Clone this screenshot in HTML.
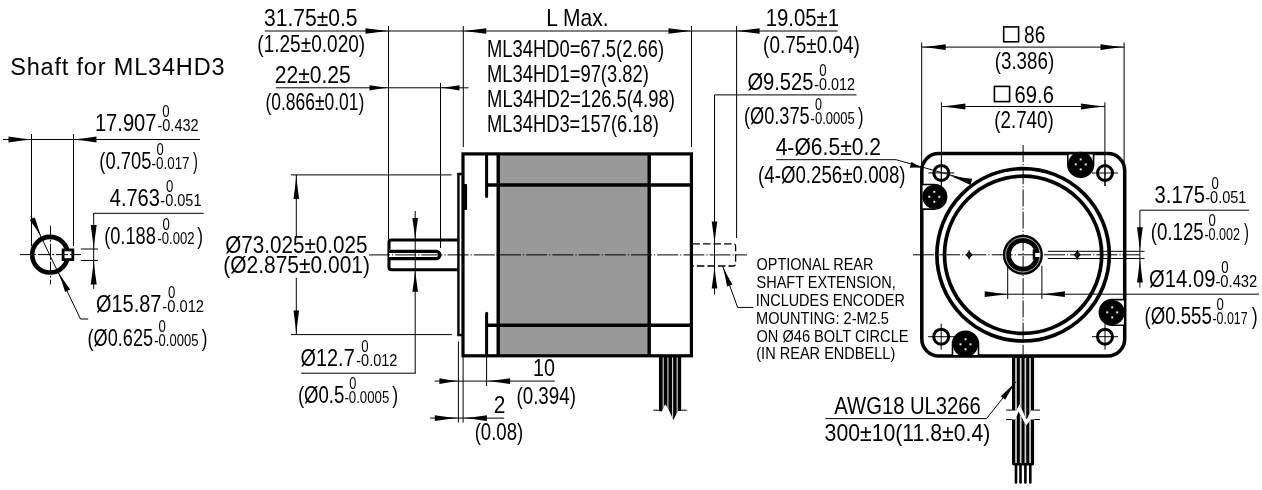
<!DOCTYPE html>
<html><head><meta charset="utf-8"><style>
html,body{margin:0;padding:0;background:#fff;}
svg{display:block;will-change:transform;}
text{font-family:"Liberation Sans",sans-serif;fill:#000;}
</style></head><body>
<svg width="1262" height="490" viewBox="0 0 1262 490">
<rect width="1262" height="490" fill="#fff"/>
<text x="10.17" y="75.3" font-size="23.5" textLength="214.35" lengthAdjust="spacing">Shaft for ML34HD3</text>
<line x1="3" y1="139.5" x2="200" y2="139.5" stroke="#000" stroke-width="1" />
<path d="M31.5,139.5 Q21.15,140.55 8.5,142.5 L8.5,136.5 Q21.15,138.45 31.5,139.5Z" fill="#000"/>
<path d="M73.5,139.5 Q83.85,138.45 96.5,136.5 L96.5,142.5 Q83.85,140.55 73.5,139.5Z" fill="#000"/>
<line x1="31.5" y1="134" x2="31.5" y2="246" stroke="#000" stroke-width="1" />
<line x1="73.5" y1="134" x2="73.5" y2="246" stroke="#000" stroke-width="1" />
<text x="94.89" y="131.4" font-size="24" textLength="61.64" lengthAdjust="spacingAndGlyphs">17.907</text>
<text x="162.17" y="117.4" font-size="16.3" textLength="7.34" lengthAdjust="spacingAndGlyphs">0</text>
<text x="157.45" y="131.4" font-size="16.3" textLength="41.19" lengthAdjust="spacingAndGlyphs">-0.432</text>
<text x="99.35" y="169.3" font-size="24" textLength="51.99" lengthAdjust="spacingAndGlyphs">(0.705</text>
<text x="156.58" y="155.3" font-size="16.3" textLength="7.22" lengthAdjust="spacingAndGlyphs">0</text>
<text x="151.6" y="169.3" font-size="16.3" textLength="37.98" lengthAdjust="spacingAndGlyphs">-0.017</text>
<text x="192.89" y="169.3" font-size="24" textLength="4.9" lengthAdjust="spacingAndGlyphs">)</text>
<text x="109.75" y="206.1" font-size="24" textLength="50.1" lengthAdjust="spacingAndGlyphs">4.763</text>
<text x="165.97" y="192.1" font-size="16.3" textLength="7.34" lengthAdjust="spacingAndGlyphs">0</text>
<text x="160.35" y="206.1" font-size="16.3" textLength="41.15" lengthAdjust="spacingAndGlyphs">-0.051</text>
<line x1="93.7" y1="213.3" x2="203.8" y2="213.3" stroke="#000" stroke-width="1" />
<line x1="93.7" y1="213" x2="93.7" y2="288.8" stroke="#000" stroke-width="1" />
<path d="M93.7,249 Q92.65,238.2 90.7,225 L96.7,225 Q94.75,238.2 93.7,249Z" fill="#000"/>
<text x="104.16" y="243.6" font-size="24" textLength="51.62" lengthAdjust="spacingAndGlyphs">(0.188</text>
<text x="162.47" y="229.6" font-size="16.3" textLength="7.34" lengthAdjust="spacingAndGlyphs">0</text>
<text x="157.41" y="243.6" font-size="16.3" textLength="37.15" lengthAdjust="spacingAndGlyphs">-0.002</text>
<text x="197.27" y="243.6" font-size="24" textLength="5.78" lengthAdjust="spacingAndGlyphs">)</text>
<circle cx="50" cy="254.7" r="17.8" stroke="#000" stroke-width="4.6" fill="none" />
<rect x="63.1" y="249.9" width="9.7" height="9.7" stroke="#000" stroke-width="2.8" fill="#fff"/>
<line x1="20" y1="254.6" x2="81" y2="254.6" stroke="#000" stroke-width="1" stroke-dasharray="12,2,2,2"/>
<line x1="50.5" y1="225.7" x2="50.5" y2="284.4" stroke="#000" stroke-width="1" stroke-dasharray="12,2,2,2"/>
<line x1="80.8" y1="249" x2="98" y2="249" stroke="#000" stroke-width="1" />
<line x1="80.8" y1="260.5" x2="98" y2="260.5" stroke="#000" stroke-width="1" />
<path d="M93.7,260.5 Q94.75,271.3 96.7,284.5 L90.7,284.5 Q92.65,271.3 93.7,260.5Z" fill="#000"/>
<polyline points="31,216 80.5,319 88.2,319" stroke="#000" stroke-width="1" fill="none" />
<path d="M41.2,236.7 Q36.35,229.05 29.87,219.98 L34.9,217.51 Q38.11,228.19 41.2,236.7Z" fill="#000"/>
<path d="M58.8,272.7 Q63.65,280.35 70.13,289.42 L65.1,291.89 Q61.89,281.21 58.8,272.7Z" fill="#000"/>
<text x="96" y="311.5" font-size="24" textLength="65.4" lengthAdjust="spacingAndGlyphs">Ø15.87</text>
<text x="167.97" y="297.5" font-size="16.3" textLength="7.34" lengthAdjust="spacingAndGlyphs">0</text>
<text x="162.34" y="311.5" font-size="16.3" textLength="41.71" lengthAdjust="spacingAndGlyphs">-0.012</text>
<text x="87.57" y="346" font-size="24" textLength="65.47" lengthAdjust="spacingAndGlyphs">(Ø0.625</text>
<text x="158.47" y="332" font-size="16.3" textLength="7.34" lengthAdjust="spacingAndGlyphs">0</text>
<text x="154.21" y="346" font-size="16.3" textLength="44.33" lengthAdjust="spacingAndGlyphs">-0.0005</text>
<text x="201.87" y="346" font-size="24" textLength="5.65" lengthAdjust="spacingAndGlyphs">)</text>
<text x="264.01" y="25.7" font-size="24" textLength="93.57" lengthAdjust="spacingAndGlyphs">31.75±0.5</text>
<line x1="264.8" y1="31" x2="837.5" y2="31" stroke="#000" stroke-width="1" />
<path d="M388.5,31 Q378.15,31.98 365.5,33.8 L365.5,28.2 Q378.15,30.02 388.5,31Z" fill="#000"/>
<path d="M463.3,31 Q473.65,30.02 486.3,28.2 L486.3,33.8 Q473.65,31.98 463.3,31Z" fill="#000"/>
<path d="M691.5,31 Q681.15,31.98 668.5,33.8 L668.5,28.2 Q681.15,30.02 691.5,31Z" fill="#000"/>
<path d="M736.6,31 Q746.95,30.02 759.6,28.2 L759.6,33.8 Q746.95,31.98 736.6,31Z" fill="#000"/>
<text x="257.31" y="51.9" font-size="24" textLength="107.86" lengthAdjust="spacingAndGlyphs">(1.25±0.020)</text>
<text x="274.75" y="82.5" font-size="24" textLength="75.89" lengthAdjust="spacingAndGlyphs">22±0.25</text>
<line x1="275.8" y1="87.8" x2="468.5" y2="87.8" stroke="#000" stroke-width="1" />
<path d="M388.5,87.8 Q379.95,88.71 369.5,90.4 L369.5,85.2 Q379.95,86.89 388.5,87.8Z" fill="#000"/>
<path d="M440.5,87.8 Q449.05,86.89 459.5,85.2 L459.5,90.4 Q449.05,88.71 440.5,87.8Z" fill="#000"/>
<text x="265.41" y="109.9" font-size="24" textLength="98.96" lengthAdjust="spacingAndGlyphs">(0.866±0.01)</text>
<line x1="388.5" y1="26" x2="388.5" y2="239.5" stroke="#000" stroke-width="1" />
<line x1="440.5" y1="83" x2="440.5" y2="248" stroke="#000" stroke-width="1" />
<line x1="463.3" y1="26" x2="463.3" y2="147" stroke="#000" stroke-width="1" />
<line x1="691.5" y1="26" x2="691.5" y2="147" stroke="#000" stroke-width="1" />
<line x1="736.6" y1="26" x2="736.6" y2="238" stroke="#000" stroke-width="1" />
<text x="546.27" y="25.7" font-size="24" textLength="62.25" lengthAdjust="spacingAndGlyphs">L Max.</text>
<text x="487.09" y="57" font-size="24" textLength="176.91" lengthAdjust="spacingAndGlyphs">ML34HD0=67.5(2.66)</text>
<text x="487.09" y="81.7" font-size="24" textLength="161.73" lengthAdjust="spacingAndGlyphs">ML34HD1=97(3.82)</text>
<text x="487.08" y="106.6" font-size="24" textLength="187.74" lengthAdjust="spacingAndGlyphs">ML34HD2=126.5(4.98)</text>
<text x="487.09" y="131.9" font-size="24" textLength="171.7" lengthAdjust="spacingAndGlyphs">ML34HD3=157(6.18)</text>
<text x="765.67" y="26.1" font-size="24" textLength="73.39" lengthAdjust="spacingAndGlyphs">19.05±1</text>
<text x="763.12" y="52.5" font-size="24" textLength="96.72" lengthAdjust="spacingAndGlyphs">(0.75±0.04)</text>
<text x="747.39" y="89.7" font-size="24" textLength="66.12" lengthAdjust="spacingAndGlyphs">Ø9.525</text>
<text x="819.17" y="75.7" font-size="16.3" textLength="7.34" lengthAdjust="spacingAndGlyphs">0</text>
<text x="814.25" y="89.7" font-size="16.3" textLength="40.67" lengthAdjust="spacingAndGlyphs">-0.012</text>
<line x1="714.5" y1="94.9" x2="856.6" y2="94.9" stroke="#000" stroke-width="1" />
<line x1="714.5" y1="94.9" x2="714.5" y2="294.4" stroke="#000" stroke-width="1" />
<path d="M714.5,243.5 Q713.52,233.6 711.7,221.5 L717.3,221.5 Q715.48,233.6 714.5,243.5Z" fill="#000"/>
<path d="M714.5,266.5 Q715.48,276.4 717.3,288.5 L711.7,288.5 Q713.52,276.4 714.5,266.5Z" fill="#000"/>
<text x="743.96" y="124.1" font-size="24" textLength="65.78" lengthAdjust="spacingAndGlyphs">(Ø0.375</text>
<text x="815.1" y="110.1" font-size="16.3" textLength="6.99" lengthAdjust="spacingAndGlyphs">0</text>
<text x="810.61" y="124.1" font-size="16.3" textLength="44.13" lengthAdjust="spacingAndGlyphs">-0.0005</text>
<text x="858.08" y="124.1" font-size="24" textLength="5.53" lengthAdjust="spacingAndGlyphs">)</text>
<line x1="291" y1="174.9" x2="451.6" y2="174.9" stroke="#000" stroke-width="1" />
<line x1="291" y1="334.6" x2="451.9" y2="334.6" stroke="#000" stroke-width="1" />
<line x1="296.3" y1="174.9" x2="296.3" y2="237" stroke="#000" stroke-width="1" />
<path d="M296.3,174.9 Q297.28,185.7 299.1,198.9 L293.5,198.9 Q295.32,185.7 296.3,174.9Z" fill="#000"/>
<line x1="296.3" y1="278" x2="296.3" y2="334.6" stroke="#000" stroke-width="1" />
<path d="M296.3,334.6 Q295.32,323.8 293.5,310.6 L299.1,310.6 Q297.28,323.8 296.3,334.6Z" fill="#000"/>
<text x="225.18" y="252.9" font-size="24" textLength="142.26" lengthAdjust="spacingAndGlyphs">Ø73.025±0.025</text>
<text x="223.29" y="273" font-size="24" textLength="146.67" lengthAdjust="spacingAndGlyphs">(Ø2.875±0.001)</text>
<rect x="498.2" y="153.9" width="150.8" height="201.9" fill="#999"/>
<rect x="463" y="153.9" width="228.4" height="201.9" fill="none" stroke="#000" stroke-width="3.2"/>
<line x1="498.2" y1="153.9" x2="498.2" y2="355.8" stroke="#000" stroke-width="3.4" />
<line x1="649.2" y1="153.9" x2="649.2" y2="355.8" stroke="#000" stroke-width="3.4" />
<line x1="486.6" y1="185" x2="691.4" y2="185" stroke="#000" stroke-width="3.4" />
<line x1="486.6" y1="325.3" x2="691.4" y2="325.3" stroke="#000" stroke-width="3.4" />
<line x1="486.6" y1="153.9" x2="486.6" y2="196.6" stroke="#000" stroke-width="3" stroke-linecap="round"/>
<line x1="486.6" y1="313.3" x2="486.6" y2="355.8" stroke="#000" stroke-width="3" stroke-linecap="round"/>
<polyline points="463,174 458.4,174 458.4,335 463,335" stroke="#000" stroke-width="2.4" fill="none" />
<rect x="463.5" y="184" width="3.6" height="26" rx="1" fill="#000"/>
<path d="M458,240 L391.5,240 Q389,240 389,242.5 L389,267.2 Q389,269.7 391.5,269.7 L458,269.7" stroke="#000" stroke-width="3.1" fill="none" />
<path d="M389,251.4 L436.3,251.4 A3.6,3.6 0 0 1 436.3,258.6 L389,258.6" stroke="#000" stroke-width="3.2" fill="#fff" />
<line x1="415.2" y1="211" x2="415.2" y2="373" stroke="#000" stroke-width="1" />
<path d="M415.2,240 Q414.22,230.1 412.4,218 L418,218 Q416.18,230.1 415.2,240Z" fill="#000"/>
<path d="M415.2,269.7 Q416.18,279.6 418,291.7 L412.4,291.7 Q414.22,279.6 415.2,269.7Z" fill="#000"/>
<text x="300.5" y="365.6" font-size="24" textLength="54.23" lengthAdjust="spacingAndGlyphs">Ø12.7</text>
<text x="361.17" y="351.6" font-size="16.3" textLength="7.34" lengthAdjust="spacingAndGlyphs">0</text>
<text x="356.25" y="365.6" font-size="16.3" textLength="41.19" lengthAdjust="spacingAndGlyphs">-0.012</text>
<line x1="301.2" y1="373.2" x2="415.8" y2="373.2" stroke="#000" stroke-width="1" />
<text x="297.94" y="402.5" font-size="24" textLength="46.42" lengthAdjust="spacingAndGlyphs">(Ø0.5</text>
<text x="349.19" y="388.5" font-size="16.3" textLength="7.11" lengthAdjust="spacingAndGlyphs">0</text>
<text x="344.4" y="402.5" font-size="16.3" textLength="44.95" lengthAdjust="spacingAndGlyphs">-0.0005</text>
<text x="392.37" y="402.5" font-size="24" textLength="5.91" lengthAdjust="spacingAndGlyphs">)</text>
<line x1="458.4" y1="341.5" x2="458.4" y2="422.6" stroke="#000" stroke-width="1" />
<line x1="463.1" y1="357" x2="463.1" y2="422.6" stroke="#000" stroke-width="1" />
<line x1="486.6" y1="357" x2="486.6" y2="386" stroke="#000" stroke-width="1" />
<line x1="434.6" y1="381.1" x2="554.6" y2="381.1" stroke="#000" stroke-width="1" />
<path d="M458.4,381.1 Q449.85,382.12 439.4,384 L439.4,378.2 Q449.85,380.09 458.4,381.1Z" fill="#000"/>
<path d="M486.7,381.1 Q497.23,380.09 510.1,378.2 L510.1,384 Q497.23,382.12 486.7,381.1Z" fill="#000"/>
<text x="533.02" y="375.9" font-size="24" textLength="21.97" lengthAdjust="spacingAndGlyphs">10</text>
<text x="516.43" y="403.6" font-size="24" textLength="59.52" lengthAdjust="spacingAndGlyphs">(0.394)</text>
<line x1="430.1" y1="418.1" x2="504.2" y2="418.1" stroke="#000" stroke-width="1" />
<path d="M458.4,418.1 Q447.78,419.12 434.8,421 L434.8,415.2 Q447.78,417.09 458.4,418.1Z" fill="#000"/>
<path d="M463.1,418.1 Q473.81,417.09 486.9,415.2 L486.9,421 Q473.81,419.12 463.1,418.1Z" fill="#000"/>
<text x="493.66" y="412.9" font-size="24" textLength="11.61" lengthAdjust="spacingAndGlyphs">2</text>
<text x="474.64" y="440.3" font-size="24" textLength="48.58" lengthAdjust="spacingAndGlyphs">(0.08)</text>
<line x1="369" y1="254.9" x2="747" y2="254.9" stroke="#000" stroke-width="1" stroke-dasharray="21,2,1.2,2"/>
<clipPath id="cw1"><polygon points="658.8,355 681.4,355 681.4,411 677.8,411 676.6,413.5 673.4,420 667.6,407.2 665,404.5 661.8,411.5 658.8,411"/></clipPath>
<g clip-path="url(#cw1)"><rect x="658.8" y="355" width="22.6" height="70" fill="#000"/>
<line x1="663.2" y1="357.5" x2="663.2" y2="425" stroke="#d8d8d8" stroke-width="1.1" />
<line x1="667.9" y1="357.5" x2="667.9" y2="425" stroke="#d8d8d8" stroke-width="1.1" />
<line x1="672.6" y1="357.5" x2="672.6" y2="425" stroke="#d8d8d8" stroke-width="1.1" />
<line x1="677.2" y1="357.5" x2="677.2" y2="425" stroke="#d8d8d8" stroke-width="1.1" />
</g>
<line x1="653.4" y1="410.2" x2="658.8" y2="410.2" stroke="#000" stroke-width="1" />
<line x1="681.4" y1="410.2" x2="686.8" y2="410.2" stroke="#000" stroke-width="1" />
<path d="M692.5,243.8 L733.2,243.8 Q735.6,243.8 735.6,246.2 L735.6,263.6 Q735.6,266 733.2,266 L692.5,266" stroke="#000" stroke-width="1.3" fill="none" stroke-dasharray="7.5,3"/>
<polyline points="722.9,266.7 737.6,307.4 753.5,307.4" stroke="#000" stroke-width="1" fill="none" />
<path d="M722.9,266.7 Q726.88,274.83 732.33,284.56 L727.06,286.46 Q725.04,275.5 722.9,266.7Z" fill="#000"/>
<text x="756.51" y="270.3" font-size="16.2" textLength="116.99" lengthAdjust="spacingAndGlyphs">OPTIONAL REAR</text>
<text x="756.55" y="288.1" font-size="16.2" textLength="139.15" lengthAdjust="spacingAndGlyphs">SHAFT EXTENSION,</text>
<text x="755.87" y="306" font-size="16.2" textLength="149.02" lengthAdjust="spacingAndGlyphs">INCLUDES ENCODER</text>
<text x="756" y="323.9" font-size="16.2" textLength="132.92" lengthAdjust="spacingAndGlyphs">MOUNTING: 2-M2.5</text>
<text x="756.51" y="341.9" font-size="16.2" textLength="151.99" lengthAdjust="spacingAndGlyphs">ON Ø46 BOLT CIRCLE</text>
<text x="756.29" y="359.3" font-size="16.2" textLength="138.99" lengthAdjust="spacingAndGlyphs">(IN REAR ENDBELL)</text>
<line x1="921.7" y1="42.4" x2="921.7" y2="170" stroke="#000" stroke-width="1" />
<line x1="1124.1" y1="42.4" x2="1124.1" y2="172" stroke="#000" stroke-width="1" />
<line x1="921.7" y1="47.1" x2="1124.5" y2="47.1" stroke="#000" stroke-width="1" />
<path d="M921.7,47.1 Q932.5,46.09 945.7,44.2 L945.7,50 Q932.5,48.12 921.7,47.1Z" fill="#000"/>
<path d="M1124.5,47.1 Q1113.7,48.12 1100.5,50 L1100.5,44.2 Q1113.7,46.09 1124.5,47.1Z" fill="#000"/>
<rect x="1003.7" y="26.9" width="14.9" height="14.9" fill="none" stroke="#000" stroke-width="1.6"/>
<text x="1024.09" y="42.8" font-size="24" textLength="21.27" lengthAdjust="spacingAndGlyphs">86</text>
<text x="994.73" y="68.9" font-size="24" textLength="59.42" lengthAdjust="spacingAndGlyphs">(3.386)</text>
<line x1="941.4" y1="102.3" x2="941.4" y2="186" stroke="#000" stroke-width="1" />
<line x1="1104.9" y1="102.3" x2="1104.9" y2="186" stroke="#000" stroke-width="1" />
<line x1="941.4" y1="106.5" x2="1104.9" y2="106.5" stroke="#000" stroke-width="1" />
<path d="M941.4,106.5 Q952.2,105.48 965.4,103.6 L965.4,109.4 Q952.2,107.52 941.4,106.5Z" fill="#000"/>
<path d="M1104.9,106.5 Q1094.1,107.52 1080.9,109.4 L1080.9,103.6 Q1094.1,105.48 1104.9,106.5Z" fill="#000"/>
<rect x="994.4" y="86.4" width="15.2" height="15.2" fill="none" stroke="#000" stroke-width="1.6"/>
<text x="1014.59" y="102.5" font-size="24" textLength="39.3" lengthAdjust="spacingAndGlyphs">69.6</text>
<text x="994.33" y="128.2" font-size="24" textLength="59.31" lengthAdjust="spacingAndGlyphs">(2.740)</text>
<rect x="921.8" y="153.6" width="202.9" height="202.3" rx="17" fill="none" stroke="#000" stroke-width="3.5"/>
<path d="M1067.8,153.6 L1067.8,164.4 A12.9,12.9 0 0 0 1093.6000000000001,164.4 L1093.6000000000001,153.6Z" fill="#fff" stroke="#000" stroke-width="1.6"/>
<circle cx="1080.7" cy="164.4" r="12.6" stroke="#000" stroke-width="0" fill="#000" />
<rect x="1079.7" y="158.4" width="2" height="2" fill="#e8e8e8"/>
<rect x="1079.7" y="168.4" width="2" height="2" fill="#e8e8e8"/>
<rect x="1074.7" y="163.4" width="2" height="2" fill="#e8e8e8"/>
<rect x="1084.7" y="163.4" width="2" height="2" fill="#e8e8e8"/>
<path d="M921.8,184.5 L934.3,184.5 A12.3,12.3 0 0 1 934.3,209.10000000000002 L921.8,209.10000000000002Z" fill="#fff" stroke="#000" stroke-width="1.6"/>
<circle cx="934.3" cy="196.8" r="12" stroke="#000" stroke-width="0" fill="#000" />
<rect x="933.3" y="190.8" width="2" height="2" fill="#e8e8e8"/>
<rect x="933.3" y="200.8" width="2" height="2" fill="#e8e8e8"/>
<rect x="928.3" y="195.8" width="2" height="2" fill="#e8e8e8"/>
<rect x="938.3" y="195.8" width="2" height="2" fill="#e8e8e8"/>
<path d="M1124.7,299.59999999999997 L1112.2,299.59999999999997 A12.8,12.8 0 0 0 1112.2,325.2 L1124.7,325.2Z" fill="#fff" stroke="#000" stroke-width="1.6"/>
<circle cx="1112.2" cy="312.4" r="12.5" stroke="#000" stroke-width="0" fill="#000" />
<rect x="1111.2" y="306.4" width="2" height="2" fill="#e8e8e8"/>
<rect x="1111.2" y="316.4" width="2" height="2" fill="#e8e8e8"/>
<rect x="1106.2" y="311.4" width="2" height="2" fill="#e8e8e8"/>
<rect x="1116.2" y="311.4" width="2" height="2" fill="#e8e8e8"/>
<path d="M952.5,355.9 L952.5,344.3 A13,13 0 0 1 978.5,344.3 L978.5,355.9Z" fill="#fff" stroke="#000" stroke-width="1.6"/>
<circle cx="965.5" cy="344.3" r="12.7" stroke="#000" stroke-width="0" fill="#000" />
<rect x="964.5" y="338.3" width="2" height="2" fill="#e8e8e8"/>
<rect x="964.5" y="348.3" width="2" height="2" fill="#e8e8e8"/>
<rect x="959.5" y="343.3" width="2" height="2" fill="#e8e8e8"/>
<rect x="969.5" y="343.3" width="2" height="2" fill="#e8e8e8"/>
<line x1="928.3" y1="172.9" x2="954.3" y2="172.9" stroke="#000" stroke-width="1" />
<line x1="941.3" y1="159.9" x2="941.3" y2="185.9" stroke="#000" stroke-width="1" />
<circle cx="941.3" cy="172.9" r="7.5" stroke="#000" stroke-width="3" fill="none" />
<line x1="1092" y1="173" x2="1118" y2="173" stroke="#000" stroke-width="1" />
<line x1="1105" y1="160" x2="1105" y2="186" stroke="#000" stroke-width="1" />
<circle cx="1105" cy="173" r="7.5" stroke="#000" stroke-width="3" fill="none" />
<line x1="928.2" y1="336.7" x2="954.2" y2="336.7" stroke="#000" stroke-width="1" />
<line x1="941.2" y1="323.7" x2="941.2" y2="349.7" stroke="#000" stroke-width="1" />
<circle cx="941.2" cy="336.7" r="7.5" stroke="#000" stroke-width="3" fill="none" />
<line x1="1092" y1="336.7" x2="1118" y2="336.7" stroke="#000" stroke-width="1" />
<line x1="1105" y1="323.7" x2="1105" y2="349.7" stroke="#000" stroke-width="1" />
<circle cx="1105" cy="336.7" r="7.5" stroke="#000" stroke-width="3" fill="none" />
<circle cx="1023.1" cy="254.8" r="86.2" stroke="#000" stroke-width="3.7" fill="none" />
<circle cx="1023.1" cy="254.8" r="78.6" stroke="#000" stroke-width="3.7" fill="none" />
<line x1="913" y1="254.8" x2="1140" y2="254.8" stroke="#000" stroke-width="1" stroke-dasharray="21,2,1.2,2"/>
<line x1="1023.1" y1="145" x2="1023.1" y2="372" stroke="#000" stroke-width="1" stroke-dasharray="17,2,1.2,2"/>
<circle cx="1022.9" cy="254.8" r="16" stroke="#000" stroke-width="8" fill="none" />
<circle cx="1022.9" cy="254.8" r="17.2" stroke="#e0e0e0" stroke-width="0.8" fill="none" />
<rect x="1032.7" y="249.4" width="4" height="10.2" fill="#000"/>
<rect x="1035.2" y="253" width="4.6" height="4" fill="#fff"/>
<path d="M969.1,251.9 L971.8000000000001,254.8 L969.1,257.7 L966.4,254.8Z" fill="#444" stroke="#000" stroke-width="1.3"/>
<line x1="969.1" y1="250" x2="969.1" y2="259.6" stroke="#000" stroke-width="1" />
<path d="M1077.3,251.9 L1080.0,254.8 L1077.3,257.7 L1074.6,254.8Z" fill="#444" stroke="#000" stroke-width="1.3"/>
<line x1="1077.3" y1="250" x2="1077.3" y2="259.6" stroke="#000" stroke-width="1" />
<line x1="1047.8" y1="251.3" x2="1144.5" y2="251.3" stroke="#000" stroke-width="1" />
<line x1="1047.8" y1="258.5" x2="1144.5" y2="258.5" stroke="#000" stroke-width="1" />
<line x1="1139.9" y1="210.2" x2="1249.2" y2="210.2" stroke="#000" stroke-width="1" />
<line x1="1139.9" y1="210.2" x2="1139.9" y2="287.7" stroke="#000" stroke-width="1" />
<path d="M1139.9,251.3 Q1138.88,240.5 1137,227.3 L1142.8,227.3 Q1140.92,240.5 1139.9,251.3Z" fill="#000"/>
<path d="M1139.9,258.5 Q1140.92,269.3 1142.8,282.5 L1137,282.5 Q1138.88,269.3 1139.9,258.5Z" fill="#000"/>
<text x="1154.54" y="202.7" font-size="24" textLength="50.57" lengthAdjust="spacingAndGlyphs">3.175</text>
<text x="1211.47" y="188.7" font-size="16.3" textLength="7.34" lengthAdjust="spacingAndGlyphs">0</text>
<text x="1205.25" y="202.7" font-size="16.3" textLength="41.15" lengthAdjust="spacingAndGlyphs">-0.051</text>
<text x="1150.73" y="240" font-size="24" textLength="53.03" lengthAdjust="spacingAndGlyphs">(0.125</text>
<text x="1208.47" y="226" font-size="16.3" textLength="7.34" lengthAdjust="spacingAndGlyphs">0</text>
<text x="1204.43" y="240" font-size="16.3" textLength="35.7" lengthAdjust="spacingAndGlyphs">-0.002</text>
<text x="1243.89" y="240" font-size="24" textLength="4.9" lengthAdjust="spacingAndGlyphs">)</text>
<line x1="1007.7" y1="265.2" x2="1007.7" y2="299" stroke="#000" stroke-width="1" />
<line x1="1041.9" y1="265.7" x2="1041.9" y2="299" stroke="#000" stroke-width="1" />
<line x1="985" y1="294.2" x2="1259" y2="294.2" stroke="#000" stroke-width="1" />
<path d="M1007.7,294.2 Q997.35,295.21 984.7,297.1 L984.7,291.3 Q997.35,293.19 1007.7,294.2Z" fill="#000"/>
<path d="M1041.9,294.2 Q1052.25,293.19 1064.9,291.3 L1064.9,297.1 Q1052.25,295.21 1041.9,294.2Z" fill="#000"/>
<text x="1149.09" y="286.7" font-size="24" textLength="66.33" lengthAdjust="spacingAndGlyphs">Ø14.09</text>
<text x="1221.27" y="272.7" font-size="16.3" textLength="7.34" lengthAdjust="spacingAndGlyphs">0</text>
<text x="1215.44" y="286.7" font-size="16.3" textLength="41.81" lengthAdjust="spacingAndGlyphs">-0.432</text>
<text x="1144.54" y="324.4" font-size="24" textLength="67.22" lengthAdjust="spacingAndGlyphs">(Ø0.555</text>
<text x="1216.47" y="310.4" font-size="16.3" textLength="7.34" lengthAdjust="spacingAndGlyphs">0</text>
<text x="1212.44" y="324.4" font-size="16.3" textLength="35.19" lengthAdjust="spacingAndGlyphs">-0.017</text>
<text x="1251.67" y="324.4" font-size="24" textLength="5.91" lengthAdjust="spacingAndGlyphs">)</text>
<text x="775.63" y="154.6" font-size="24" textLength="105.46" lengthAdjust="spacingAndGlyphs">4-Ø6.5±0.2</text>
<text x="758.03" y="182.5" font-size="24" textLength="147.58" lengthAdjust="spacingAndGlyphs">(4-Ø0.256±0.008)</text>
<line x1="776.1" y1="159.7" x2="896" y2="159.7" stroke="#000" stroke-width="1" />
<polyline points="896,159.7 971.5,181" stroke="#000" stroke-width="1" fill="none" />
<path d="M921.7,167.8 Q916.42,167.44 909.79,167.66 L911.47,161.69 Q917.01,165.35 921.7,167.8Z" fill="#000"/>
<path d="M950.6,176 Q960.23,177.52 972.19,178.66 L970.4,185.01 Q959.6,179.74 950.6,176Z" fill="#000"/>
<clipPath id="cw2"><polygon points="1011.9,356 1034.3,356 1034.3,410.6 1031,410.6 1026.5,419.6 1019.5,404.2 1016.2,410.6 1011.9,410.6"/></clipPath>
<clipPath id="cw3"><path d="M1011.9,419.5 L1015.5,419.5 L1018.5,411.6 L1026,425.6 L1031,419.5 L1034.3,419.5 L1034.3,463.5 Q1034.3,465.6 1032.3,465.6 L1013.9,465.6 Q1011.9,465.6 1011.9,463.5Z"/></clipPath>
<g clip-path="url(#cw2)"><rect x="1011.9" y="356" width="22.4" height="112" fill="#000"/>
<line x1="1016" y1="358" x2="1016" y2="463" stroke="#d0d0d0" stroke-width="1.7" />
<line x1="1020.7" y1="358" x2="1020.7" y2="463" stroke="#d0d0d0" stroke-width="1.7" />
<line x1="1025.4" y1="358" x2="1025.4" y2="463" stroke="#d0d0d0" stroke-width="1.7" />
<line x1="1030.1" y1="358" x2="1030.1" y2="463" stroke="#d0d0d0" stroke-width="1.7" />
</g>
<g clip-path="url(#cw3)"><rect x="1011.9" y="356" width="22.4" height="112" fill="#000"/>
<line x1="1016" y1="358" x2="1016" y2="463" stroke="#d0d0d0" stroke-width="1.7" />
<line x1="1020.7" y1="358" x2="1020.7" y2="463" stroke="#d0d0d0" stroke-width="1.7" />
<line x1="1025.4" y1="358" x2="1025.4" y2="463" stroke="#d0d0d0" stroke-width="1.7" />
<line x1="1030.1" y1="358" x2="1030.1" y2="463" stroke="#d0d0d0" stroke-width="1.7" />
</g>
<line x1="1006.1" y1="410.1" x2="1011.9" y2="410.1" stroke="#000" stroke-width="1" />
<line x1="1034.3" y1="410.1" x2="1039.8" y2="410.1" stroke="#000" stroke-width="1" />
<line x1="1006.1" y1="419.5" x2="1011.9" y2="419.5" stroke="#000" stroke-width="1" />
<line x1="1034.3" y1="419.5" x2="1039.8" y2="419.5" stroke="#000" stroke-width="1" />
<line x1="1016" y1="465" x2="1016" y2="482.5" stroke="#000" stroke-width="2.6" stroke-linecap="round"/>
<line x1="1020.5" y1="465" x2="1020.5" y2="482.5" stroke="#000" stroke-width="2.6" stroke-linecap="round"/>
<line x1="1025.4" y1="465" x2="1025.4" y2="482.5" stroke="#000" stroke-width="2.6" stroke-linecap="round"/>
<line x1="1030.3" y1="465" x2="1030.3" y2="482.5" stroke="#000" stroke-width="2.6" stroke-linecap="round"/>
<text x="834.35" y="413.7" font-size="24" textLength="146.46" lengthAdjust="spacingAndGlyphs">AWG18 UL3266</text>
<polyline points="825.4,418.6 986.5,418.6 1016,381.6" stroke="#000" stroke-width="1" fill="none" />
<path d="M1016,381.6 Q1010.92,389.63 1005.19,399.82 L1000.8,396.35 Q1009.38,388.41 1016,381.6Z" fill="#000"/>
<text x="824.6" y="440.6" font-size="24" textLength="165.76" lengthAdjust="spacingAndGlyphs">300±10(11.8±0.4)</text>
</svg></body></html>
